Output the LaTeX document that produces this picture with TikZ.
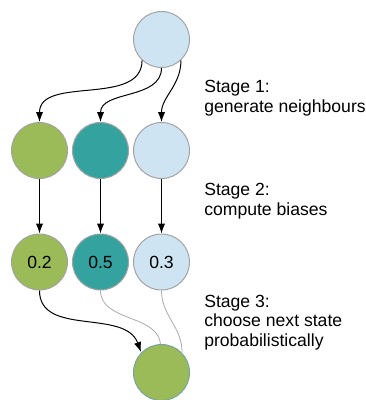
\documentclass[tikz,border=0pt]{standalone}
\usepackage{fontspec}
\setmainfont{Liberation Sans}
\usetikzlibrary{arrows.meta}
\definecolor{nbgreen}{HTML}{9BBB59}
\definecolor{nbteal}{HTML}{34A39F}
\definecolor{nblight}{HTML}{CFE4F2}
\definecolor{nbrim}{HTML}{A3A3A3}
\definecolor{nbthin}{HTML}{AAAAAA}
\begin{document}
\begin{tikzpicture}[x=0.75pt,y=-0.75pt,
		state/.style={circle,draw=nbrim,line width=0.75pt,minimum size=42pt,inner sep=0pt,font=\fontsize{13.2}{15}\selectfont},
		flow/.style={line width=0.75pt,-{Latex[length=7.5pt,width=5.5pt]}},
		faint/.style={draw=nbthin,line width=0.6pt},
		stage/.style={anchor=base west,inner sep=0pt,align=left,font=\fontsize{13.2}{14.4}\selectfont}]
				\useasboundingbox (0,0) rectangle (365,400);
				\node[state,fill=nblight] (top) at (161.5,39.5) {};
				\node[state,fill=nbgreen] (ga) at (39.5,150.5) {};
				\node[state,fill=nbteal] (gb) at (100.5,150.5) {};
				\node[state,fill=nblight] (gc) at (161.5,150.5) {};
				\node[state,fill=nbgreen] (ba) at (39.5,262) {0.2};
				\node[state,fill=nbteal] (bb) at (100.5,262) {0.5};
				\node[state,fill=nblight] (bc) at (161.5,262) {0.3};
				\node[stage] (s1) at (204,112) {Stage 1:\\generate neighbours};
				\node[stage] (s2) at (204,215) {Stage 2:\\compute biases};
				\node[stage] (s3) at (204,346) {Stage 3:\\choose next state\\probabilistically};
				% stage 1
				\draw[flow] (top.227) to[out=270,in=90] (ga.north);
				\draw[flow] (top.south) to[out=270,in=90] (gb.north);
				\draw[flow] (top.313) to[out=270,in=90] (gc.north);
				% stage 2
				\draw[flow] (ga) -- (ba);
				\draw[flow] (gb) -- (bb);
				\draw[flow] (gc) -- (bc);
				% stage 3
				\draw[faint] (bb.south) to[out=270,in=90] (160.5,346);
				\draw[faint] (bc.south) to[out=270,in=90] (182,352);
				\draw[flow] (ba.south) to[out=270,in=110] (141,352);
				\node[state,fill=nbgreen,draw=nbrim!60!nbteal] (pick) at (161.5,372.5) {};
			\end{tikzpicture}
\end{document}
